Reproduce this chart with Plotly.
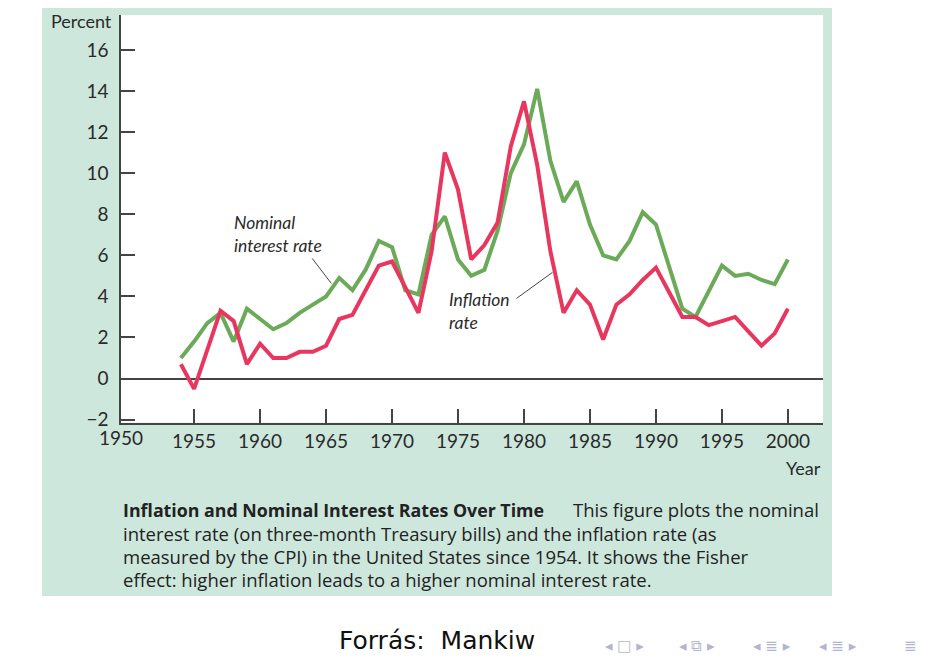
import plotly.graph_objects as go

years = list(range(1954, 2001))
inflation = [0.7, -0.5, 1.4, 3.3, 2.8, 0.7, 1.7, 1.0, 1.0, 1.3, 1.3, 1.6, 2.9, 3.1, 4.3, 5.5,
             5.7, 4.4, 3.2, 6.2, 11.0, 9.2, 5.8, 6.5, 7.6, 11.3, 13.5, 10.4, 6.2, 3.2, 4.3, 3.6,
             1.9, 3.6, 4.1, 4.8, 5.4, 4.2, 3.0, 3.0, 2.6, 2.8, 3.0, 2.3, 1.6, 2.2, 3.4]
nominal = [1.0, 1.8, 2.7, 3.2, 1.8, 3.4, 2.9, 2.4, 2.7, 3.2, 3.6, 4.0, 4.9, 4.3, 5.3, 6.7,
           6.4, 4.3, 4.1, 7.0, 7.9, 5.8, 5.0, 5.3, 7.2, 10.0, 11.4, 14.1, 10.6, 8.6, 9.6, 7.5,
           6.0, 5.8, 6.7, 8.1, 7.5, 5.4, 3.4, 3.0, 4.3, 5.5, 5.0, 5.1, 4.8, 4.6, 5.8]
x_ticks = [1955, 1960, 1965, 1970, 1975, 1980, 1985, 1990, 1995, 2000]
y_ticks = [-2, 0, 2, 4, 6, 8, 10, 12, 14, 16]
y_tick_text = ["\u22122", "0", "2", "4", "6", "8", "10", "12", "14", "16"]

# page body has an 8px margin: figure starts at (8, 8) in the window
OFF = 8
W, H = 928 - 2 * OFF, 659 - OFF
K = 0.986  # measured vertical correction
def px(x): return (x - OFF) / W
def py(y): return 1 - (y - OFF) / (H * K)

XR = [1949.46, 2002.66]
YR = [-2.15, 17.7]

GREEN_BG = "#cde7dc"
TXT = "#2a2a2a"
AX = "#444444"
FONT = "Lato, Open Sans, sans-serif"

fig = go.Figure()
fig.add_trace(go.Scatter(x=years, y=nominal, mode="lines",
                         line=dict(color="#6aaa58", width=4), name="Nominal interest rate"))
fig.add_trace(go.Scatter(x=years, y=inflation, mode="lines",
                         line=dict(color="#e8365f", width=4), name="Inflation rate"))

shapes = [
    dict(type="rect", xref="paper", yref="paper", x0=px(42), x1=px(832), y0=py(595), y1=1,
         fillcolor=GREEN_BG, line=dict(width=0), layer="below"),
    dict(type="rect", xref="paper", yref="paper", x0=px(121), x1=px(823), y0=py(422), y1=py(15),
         fillcolor="white", line=dict(width=0), layer="below"),
    dict(type="line", xref="x", yref="y", x0=1963.95, y0=5.85, x1=1965.4, y1=4.63,
         line=dict(color=AX, width=1)),
    dict(type="line", xref="x", yref="y", x0=1979.43, y0=3.9, x1=1982.16, y1=5.17,
         line=dict(color=AX, width=1)),
]

ann = []
ann.append(dict(xref="x", yref="y", x=1957.85, y=7.03, xanchor="left", yanchor="middle",
                text="<i>Nominal<br>interest rate</i>", showarrow=False, align="left",
                font=dict(family=FONT, size=17.5, color=TXT)))
ann.append(dict(xref="x", yref="y", x=1974.2, y=3.27, xanchor="left", yanchor="middle",
                text="<i>Inflation<br>rate</i>", showarrow=False, align="left",
                font=dict(family=FONT, size=17.5, color=TXT)))
ann.append(dict(xref="x", yref="paper", x=XR[0], y=py(437), xanchor="center", yanchor="middle",
                text="1950", showarrow=False, font=dict(family=FONT, size=19, color=TXT)))
ann.append(dict(xref="paper", yref="paper", x=px(81), y=py(21), xanchor="center", yanchor="middle",
                text="Percent", showarrow=False, font=dict(family=FONT, size=18, color=TXT)))
ann.append(dict(xref="paper", yref="paper", x=px(823), y=py(467), xanchor="right", yanchor="middle",
                text="Year", showarrow=False, font=dict(family=FONT, size=18, color=TXT)))

cap_font = dict(family="Open Sans, Lato, sans-serif", size=18.5, color="#222222")
ann.append(dict(xref="paper", yref="paper", x=px(121), y=py(509), xanchor="left", yanchor="middle",
                text="<b>Inflation and Nominal Interest Rates Over Time</b>", showarrow=False,
                font=dict(family="Open Sans, sans-serif", size=17.8, color="#222222")))
ann.append(dict(xref="paper", yref="paper", x=px(821), y=py(509), xanchor="right", yanchor="middle",
                text="This figure plots the nominal", showarrow=False, font=cap_font))
cap_lines = ["interest rate (on three-month Treasury bills) and the inflation rate (as",
             "measured by the CPI) in the United States since 1954. It shows the Fisher",
             "effect: higher inflation leads to a higher nominal interest rate."]
for yy, t in zip([533, 556, 579], cap_lines):
    ann.append(dict(xref="paper", yref="paper", x=px(121), y=py(yy), xanchor="left", yanchor="middle",
                    text=t, showarrow=False, font=cap_font))

ann.append(dict(xref="paper", yref="paper", x=px(437), y=py(639), xanchor="center", yanchor="middle",
                text="Forrás:  Mankiw", showarrow=False,
                font=dict(family="DejaVu Sans, sans-serif", size=25, color="#111111")))
nav = ["◂ □ ▸", "◂ ⧉ ▸", "◂ ≣ ▸", "◂ ≣ ▸"]
for cx, t in zip([624, 697, 772, 838], nav):
    ann.append(dict(xref="paper", yref="paper", x=px(cx), y=py(645), xanchor="center", yanchor="middle",
                    text=t, showarrow=False,
                    font=dict(family="DejaVu Sans, sans-serif", size=15, color="#b4b4d2")))
ann.append(dict(xref="paper", yref="paper", x=px(910), y=py(645), xanchor="center", yanchor="middle",
                text="≣", showarrow=False,
                font=dict(family="DejaVu Sans, sans-serif", size=15, color="#b4b4d2")))

fig.update_layout(
    width=W, height=H,
    margin=dict(l=0, r=0, t=0, b=0),
    paper_bgcolor="white", plot_bgcolor="white",
    showlegend=False,
    shapes=shapes, annotations=ann,
    xaxis=dict(domain=[px(121), px(823)], range=XR, tickvals=x_ticks, ticks="inside", ticklen=14,
               tickwidth=1.5, tickcolor=AX, showline=True, linecolor=AX, linewidth=1.5,
               showgrid=False, zeroline=False, ticklabelstandoff=1,
               tickfont=dict(family=FONT, size=19, color=TXT)),
    yaxis=dict(domain=[py(422), py(15)], range=YR, tickvals=y_ticks, ticktext=y_tick_text,
               ticks="inside", ticklen=14, tickwidth=1.5, tickcolor=AX, showline=True,
               linecolor=AX, linewidth=1.5, showgrid=False, zeroline=True, zerolinecolor=AX,
               zerolinewidth=1.5, ticklabelstandoff=7,
               tickfont=dict(family=FONT, size=19, color=TXT)),
)

fig.write_html("out.html")
